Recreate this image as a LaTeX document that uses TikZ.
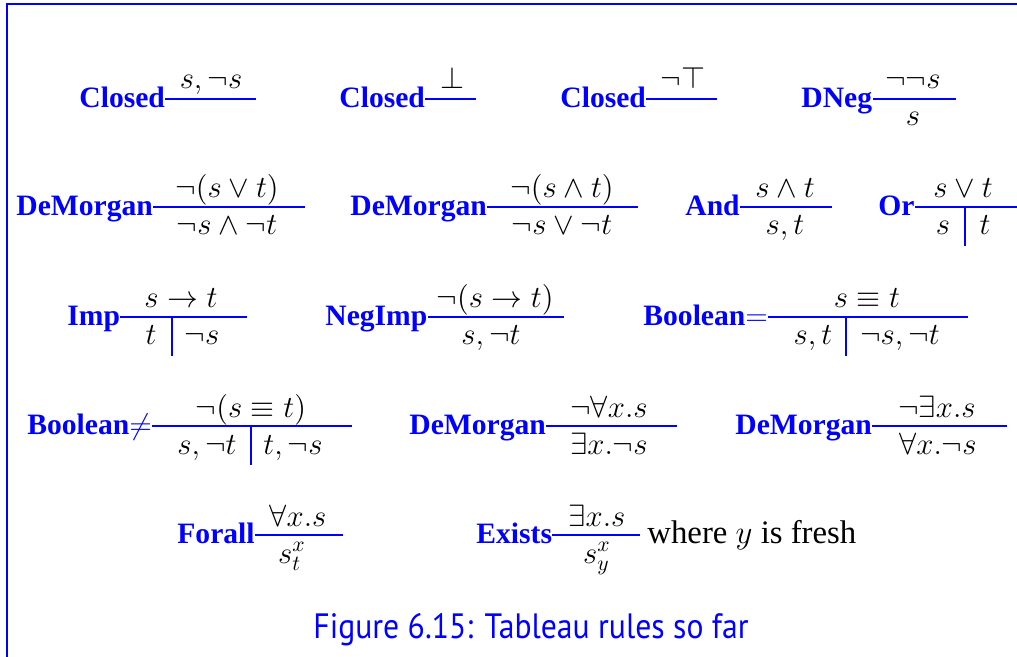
\documentclass[tikz,border=0pt]{standalone}
\usepackage{fix-cm}
\usepackage{fontspec}
\setmainfont{Liberation Serif}
\newfontfamily\capfont[FakeStretch=0.9]{PT Sans}
\usetikzlibrary{positioning}

\begin{document}
\begin{tikzpicture}[
    x=0.5pt,y=-0.5pt,
    rname/.style={anchor=base west,inner sep=0pt,text=blue,font=\fontsize{14.8}{18}\selectfont\bfseries},
    frm/.style={anchor=base,inner sep=0pt,font=\fontsize{15.4}{18}\selectfont},
    bar/.style={draw=blue,line width=1pt},
    split/.style={draw=blue,line width=1pt}
  ]
  \useasboundingbox (0,0) rectangle (1017,657);

  %% frame
  \coordinate (tl) at (6.5,4.5);
  \coordinate (tr) at (1017,4.5);
  \coordinate (bl) at (6.5,657);
  \draw[blue,line width=1pt] (tr) -- (tl) -- (bl);

  %% row 1: closure and double negation
  \node[rname] (cl1) at (79,108) {Closed};
  \coordinate (cl1e) at (256,99.5);
  \draw[bar] (cl1.east |- cl1e) -- (cl1e);
  \node[frm] (cl1p) at (211,89) {$s,\neg s$};

  \node[rname] (cl2) at (339,108) {Closed};
  \coordinate (cl2e) at (476,99.5);
  \draw[bar] (cl2.east |- cl2e) -- (cl2e);
  \node[frm] (cl2p) at (452,89) {$\bot$};

  \node[rname] (cl3) at (560,108) {Closed};
  \coordinate (cl3e) at (717,99.5);
  \draw[bar] (cl3.east |- cl3e) -- (cl3e);
  \node[frm] (cl3p) at (683,89) {$\neg\top$};

  \node[rname] (dneg) at (801,108) {DNeg};
  \coordinate (dnege) at (956,99.5);
  \draw[bar] (dneg.east |- dnege) -- (dnege);
  \node[frm] (dnegp) at (913,89) {$\neg\neg s$};
  \node[frm] (dnegc) at (913,126) {$s$};

  %% row 2: propositional connectives
  \node[rname] (dm1) at (16,216) {DeMorgan};
  \coordinate (dm1e) at (305,207.5);
  \draw[bar] (dm1.east |- dm1e) -- (dm1e);
  \node[frm] (dm1p) at (227,198) {$\neg(s\vee t)$};
  \node[frm] (dm1c) at (227,235) {$\neg s\wedge\neg t$};

  \node[rname] (dm2) at (350,216) {DeMorgan};
  \coordinate (dm2e) at (638,207.5);
  \draw[bar] (dm2.east |- dm2e) -- (dm2e);
  \node[frm] (dm2p) at (562,198) {$\neg(s\wedge t)$};
  \node[frm] (dm2c) at (562,235) {$\neg s\vee\neg t$};

  \node[rname] (and) at (685,216) {And};
  \coordinate (ande) at (832,207.5);
  \draw[bar] (and.east |- ande) -- (ande);
  \node[frm] (andp) at (785,198) {$s\wedge t$};
  \node[frm] (andc) at (785,235) {$s,t$};

  \node[rname] (or) at (878,216) {Or};
  \coordinate (ore) at (1017,207.5);
  \coordinate (ors) at (965,207.5);
  \coordinate (orb) at (965,246.5);
  \draw[bar] (or.east |- ore) -- (ore);
  \draw[split] (ors) -- (orb);
  \node[frm] (orp) at (963,198) {$s\vee t$};
  \node[frm] (orl) at (943,235) {$s$};
  \node[frm] (orr) at (985,235) {$t$};

  %% row 3: implication and equivalence
  \node[rname] (imp) at (67,325.5) {Imp};
  \coordinate (impe) at (247,317);
  \coordinate (imps) at (172,317);
  \coordinate (impb) at (172,356);
  \draw[bar] (imp.east |- impe) -- (impe);
  \draw[split] (imps) -- (impb);
  \node[frm] (impp) at (181,308) {$s\rightarrow t$};
  \node[frm] (impl) at (151,345) {$t$};
  \node[frm] (impr) at (202,345) {$\neg s$};

  \node[rname] (nimp) at (325,325.5) {NegImp};
  \coordinate (nimpe) at (564,317);
  \draw[bar] (nimp.east |- nimpe) -- (nimpe);
  \node[frm] (nimpp) at (495,308) {$\neg(s\rightarrow t)$};
  \node[frm] (nimpc) at (491,345) {$s,\neg t$};

  \node[rname] (beq) at (643,325.5) {Boolean$=$};
  \coordinate (beqe) at (968,317);
  \coordinate (beqs) at (846,317);
  \coordinate (beqb) at (846,356);
  \draw[bar] (beq.east |- beqe) -- (beqe);
  \draw[split] (beqs) -- (beqb);
  \node[frm] (beqp) at (867,308) {$s\equiv t$};
  \node[frm] (beql) at (813,345) {$s,t$};
  \node[frm] (beqr) at (900,345) {$\neg s,\neg t$};

  %% row 4: negated equivalence and quantifiers
  \node[rname] (bne) at (27,434.5) {Boolean$\neq$};
  \coordinate (bnee) at (352,426);
  \coordinate (bnes) at (251,426);
  \coordinate (bneb) at (251,465);
  \draw[bar] (bne.east |- bnee) -- (bnee);
  \draw[split] (bnes) -- (bneb);
  \node[frm] (bnep) at (251,417) {$\neg(s\equiv t)$};
  \node[frm] (bnel) at (207,454) {$s,\neg t$};
  \node[frm] (bner) at (293,454) {$t,\neg s$};

  \node[rname] (dm3) at (409,434.5) {DeMorgan};
  \coordinate (dm3e) at (677,426);
  \draw[bar] (dm3.east |- dm3e) -- (dm3e);
  \node[frm] (dm3p) at (609,417) {$\neg\forall x.s$};
  \node[frm] (dm3c) at (609,454) {$\exists x.\neg s$};

  \node[rname] (dm4) at (735,434.5) {DeMorgan};
  \coordinate (dm4e) at (1007,426);
  \draw[bar] (dm4.east |- dm4e) -- (dm4e);
  \node[frm] (dm4p) at (937,417) {$\neg\exists x.s$};
  \node[frm] (dm4c) at (938,454) {$\forall x.\neg s$};

  %% row 5: quantifier instantiation
  \node[rname] (fa) at (177,543.5) {Forall};
  \coordinate (fae) at (343,535);
  \draw[bar] (fa.east |- fae) -- (fae);
  \node[frm] (fap) at (298,526) {$\forall x.s$};
  \node[frm] (fac) at (292,563) {$s^x_t$};

  \node[rname] (ex) at (476,543.5) {Exists};
  \coordinate (exe) at (640,535);
  \draw[bar] (ex.east |- exe) -- (exe);
  \node[frm] (exp) at (597,526) {$\exists x.s$};
  \node[frm] (exc) at (597,563) {$s^x_y$};
  \node[frm,anchor=base west,font=\fontsize{16.4}{19}\selectfont] (fresh) at (647,543.5) {where $y$ is fresh};

  %% caption
  \node[anchor=base,inner sep=0pt,text=blue,font=\capfont\fontsize{17.6}{20}\selectfont] (cap) at (531,638) {Figure 6.15: Tableau rules so far};
\end{tikzpicture}
\end{document}
